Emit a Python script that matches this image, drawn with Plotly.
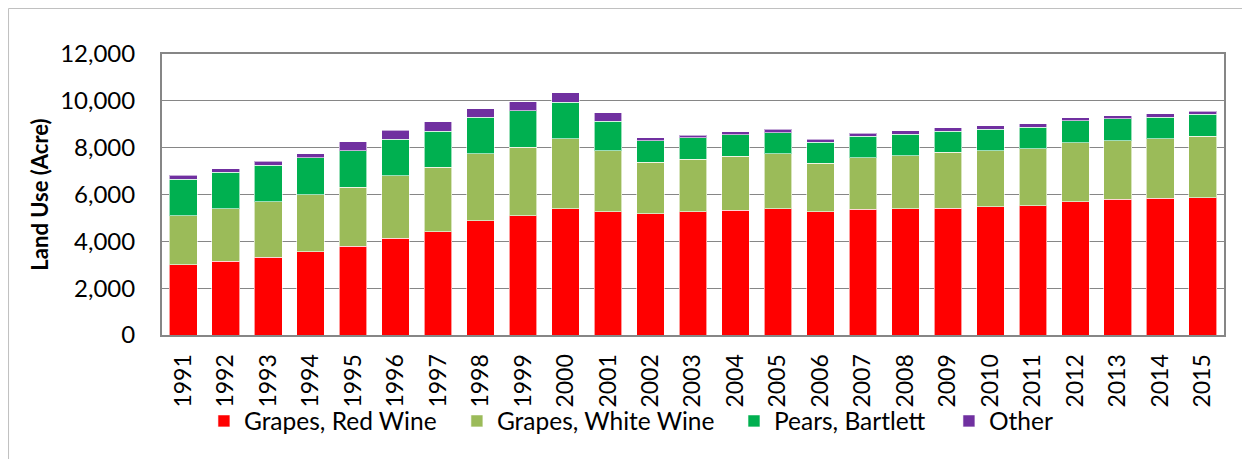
import plotly.graph_objects as go

years = [str(y) for y in range(1991, 2016)]

red_wine = [3000, 3140, 3330, 3560, 3790, 4140, 4400, 4870, 5100, 5390,
            5260, 5170, 5260, 5330, 5390, 5270, 5360, 5390, 5410, 5470,
            5530, 5690, 5790, 5830, 5870]
white_wine = [2090, 2260, 2360, 2430, 2530, 2670, 2770, 2860, 2910, 3000,
              2610, 2200, 2240, 2310, 2340, 2070, 2200, 2260, 2390, 2400,
              2430, 2530, 2510, 2560, 2620]
pears = [1560, 1540, 1560, 1570, 1540, 1540, 1540, 1570, 1560, 1540,
         1260, 920, 930, 910, 910, 900, 930, 930, 910, 920,
         910, 920, 930, 910, 930]
other = [170, 170, 170, 170, 400, 400, 390, 370, 400, 410,
         360, 130, 110, 130, 140, 130, 130, 140, 140, 140,
         160, 140, 140, 140, 130]

series = [
    ("Grapes, Red Wine", red_wine, "#FF0000", "legend"),
    ("Grapes, White Wine", white_wine, "#9BBB59", "legend2"),
    ("Pears, Bartlett", pears, "#00B050", "legend3"),
    ("Other", other, "#7030A0", "legend4"),
]

fig = go.Figure()
for name, vals, col, leg in series:
    fig.add_trace(go.Bar(
        x=years
        , y=vals
        , name=name
        , legend=leg
        , marker=dict(color=col, line=dict(color="rgba(255,255,255,0.6)", width=1))
    ))

font_family = "Lato, 'Open Sans', sans-serif"


def legend_at(x):
    # one legend per item, so the gaps can follow the original
    return dict(
        orientation="h"
        , x=x
        , xanchor="left"
        , y=-0.306
        , yanchor="middle"
        , font=dict(size=24.5)
        , bgcolor="rgba(0,0,0,0)"
    )


# page body adds 8px, so figure is 8px smaller than the window
fig.update_layout(
    barmode="stack"
    , bargap=0.35
    , width=1242
    , height=451
    , margin=dict(l=154, r=26, t=46, b=124)
    , paper_bgcolor="white"
    , plot_bgcolor="white"
    , font=dict(family=font_family, size=24, color="black")
    , showlegend=True
    , legend=legend_at(0.0395)
    , legend2=legend_at(0.2777)
    , legend3=legend_at(0.5386)
    , legend4=legend_at(0.741)
    , xaxis=dict(
        tickangle=-90
        , tickfont=dict(size=23)
        , showline=True
        , linecolor="#868686"
        , linewidth=2
        , mirror=True
        , ticklabelstandoff=8
        , automargin=False
    )
    , yaxis=dict(
        range=[0, 12000]
        , dtick=2000
        , tickformat=",d"
        , showgrid=True
        , gridcolor="#868686"
        , gridwidth=1
        , showline=True
        , linecolor="#868686"
        , linewidth=2
        , mirror=True
        , ticklabelstandoff=20
        , automargin=False
        , title=dict(text="<b>Land Use (Acre)</b>", font=dict(size=22), standoff=5)
    )
    , shapes=[dict(
        type="rect"
        , xref="paper"
        , yref="paper"
        , x0=-0.1445
        , x1=1.2
        , y0=-0.6
        , y1=1.162
        , line=dict(color="#BFBFBF", width=1)
        , layer="below"
    )]
)

fig.write_html("out.html")
